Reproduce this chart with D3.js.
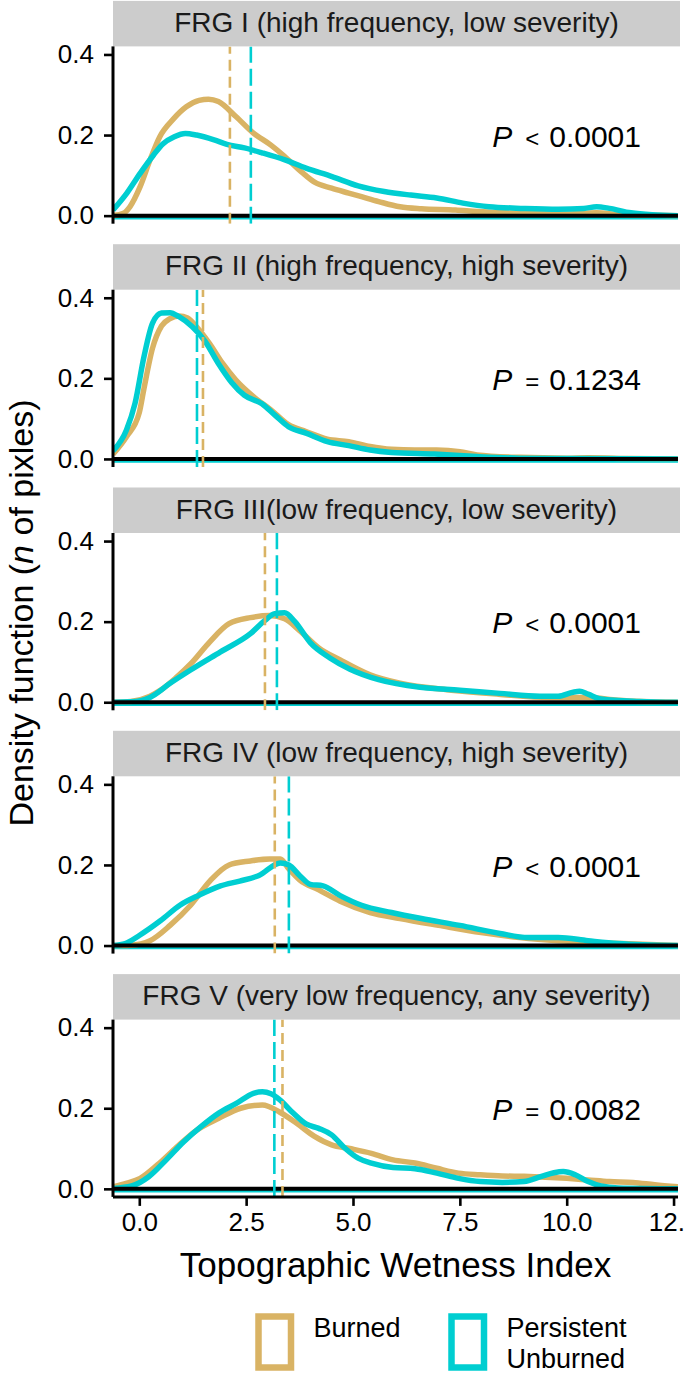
<!DOCTYPE html>
<html><head><meta charset="utf-8">
<script src="https://cdn.jsdelivr.net/npm/d3@7"></script>
<style>body{margin:0;background:#fff}svg{display:block}text{font-family:"Liberation Sans",Arial,Helvetica,sans-serif}</style>
</head><body><svg id="c" width="685" height="1373"></svg>
<script>
const panelTitles = ["FRG I (high frequency, low severity)","FRG II (high frequency, high severity)","FRG III(low frequency, low severity)","FRG IV (low frequency, high severity)","FRG V (very low frequency, any severity)"];
const seriesNames = ["Burned","Persistent Unburned"];
const xTicks = [0,2.5,5,7.5,10,12.5];
const xTickLabels = ["0.0","2.5","5.0","7.5","10.0","12.5"];
const yTicks = [0,0.2,0.4];
const yTickLabels = ["0.0","0.2","0.4"];
const pSign = ["<","=","<","<","="];
const pValue = ["0.0001","0.1234","0.0001","0.0001","0.0082"];
const burnedMean = [2.12,1.49,2.94,3.17,3.35];
const unburnedMean = [2.61,1.35,3.22,3.50,3.16];

const frg1Burned = [[-0.615,0.0],[-0.37,0.006],[-0.22,0.022],[0.02,0.072],[0.25,0.138],[0.48,0.196],[0.8,0.24],[1.1,0.27],[1.4,0.286],[1.62,0.289],[1.85,0.283],[2.26,0.246],[2.67,0.205],[3.08,0.175],[3.39,0.148],[3.8,0.108],[4.1,0.083],[4.5,0.068],[4.9,0.056],[5.2,0.047],[5.6,0.035],[6.1,0.022],[6.6,0.017],[7.4,0.014],[7.9,0.01],[8.9,0.006],[9.9,0.004],[10.7,0.007],[11.2,0.003],[12.0,0.001],[12.6,0.0]];
const frg1Unburned = [[-0.615,0.014],[-0.29,0.056],[0.02,0.105],[0.33,0.15],[0.55,0.178],[0.82,0.196],[1.08,0.204],[1.34,0.2],[1.75,0.188],[2.05,0.177],[2.46,0.168],[2.87,0.156],[3.39,0.139],[3.9,0.118],[4.51,0.097],[5.12,0.074],[5.73,0.06],[6.35,0.051],[6.96,0.044],[7.57,0.031],[8.18,0.022],[9.0,0.018],[9.8,0.016],[10.4,0.018],[10.7,0.022],[11.0,0.018],[11.5,0.007],[12.0,0.002],[12.6,0.0]];
const frg2Burned = [[-0.615,0.012],[-0.3,0.055],[0.0,0.115],[0.11,0.175],[0.31,0.275],[0.52,0.33],[0.72,0.348],[0.93,0.355],[1.13,0.35],[1.34,0.328],[1.64,0.287],[1.95,0.237],[2.26,0.196],[2.67,0.155],[3.08,0.122],[3.49,0.085],[3.9,0.068],[4.4,0.049],[4.9,0.043],[5.4,0.031],[5.9,0.024],[6.45,0.022],[6.96,0.022],[7.5,0.018],[7.9,0.01],[8.9,0.004],[10.0,0.002],[10.5,0.003],[11.5,0.001],[12.6,0.0]];
const frg2Unburned = [[-0.615,0.02],[-0.3,0.072],[-0.1,0.138],[0.11,0.254],[0.31,0.337],[0.52,0.362],[0.72,0.363],[0.93,0.353],[1.24,0.328],[1.54,0.292],[1.85,0.237],[2.16,0.19],[2.46,0.158],[2.87,0.137],[3.18,0.108],[3.49,0.08],[3.9,0.064],[4.4,0.043],[4.9,0.033],[5.4,0.022],[5.9,0.016],[6.9,0.012],[7.9,0.006],[8.9,0.002],[10.0,0.001],[12.6,0.0]];
const frg3Burned = [[-0.615,0],[-0.2,0.002],[0.25,0.015],[0.5,0.03],[0.85,0.06],[1.2,0.095],[1.65,0.15],[2.1,0.195],[2.6,0.21],[3.05,0.215],[3.4,0.207],[3.75,0.178],[4.2,0.135],[4.7,0.105],[5.4,0.068],[6.1,0.047],[7.3,0.03],[8.4,0.02],[9.6,0.012],[10.5,0.012],[11.2,0.005],[12.6,0]];
const frg3Unburned = [[-0.615,0],[-0.2,0.001],[0.25,0.012],[0.72,0.047],[1.2,0.08],[1.9,0.125],[2.6,0.17],[2.94,0.203],[3.17,0.22],[3.4,0.222],[3.64,0.2],[4.0,0.148],[4.46,0.11],[4.93,0.082],[5.6,0.056],[6.57,0.037],[7.5,0.03],[8.44,0.022],[9.37,0.015],[9.8,0.015],[10.15,0.025],[10.3,0.027],[10.5,0.02],[10.8,0.008],[11.7,0.002],[12.6,0]];
const frg4Burned = [[-0.615,0],[-0.2,0.001],[0.25,0.012],[0.72,0.05],[1.2,0.1],[1.65,0.16],[2.1,0.2],[2.6,0.21],[3.05,0.215],[3.3,0.215],[3.5,0.19],[3.75,0.163],[4.2,0.138],[4.7,0.11],[5.4,0.082],[6.1,0.067],[7.0,0.05],[8.0,0.032],[8.9,0.02],[9.8,0.012],[10.8,0.007],[12.6,0]];
const frg4Unburned = [[-0.615,0],[-0.33,0.005],[0.0,0.025],[0.5,0.062],[0.95,0.1],[1.4,0.125],[1.9,0.148],[2.35,0.16],[2.8,0.174],[3.3,0.205],[3.5,0.2],[3.75,0.174],[4.0,0.152],[4.3,0.148],[4.7,0.124],[5.2,0.1],[5.9,0.082],[6.6,0.067],[7.5,0.05],[8.44,0.03],[9.1,0.02],[9.8,0.02],[10.5,0.012],[11.2,0.005],[12.6,0]];
const frg5Burned = [[-0.615,0.005],[-0.29,0.014],[0.02,0.026],[0.43,0.06],[0.84,0.1],[1.35,0.146],[1.86,0.175],[2.37,0.2],[2.88,0.208],[3.29,0.19],[3.69,0.162],[4.1,0.13],[4.5,0.109],[4.92,0.1],[5.43,0.088],[5.94,0.072],[6.45,0.064],[6.96,0.051],[7.47,0.039],[7.98,0.035],[8.49,0.032],[9.0,0.031],[9.5,0.029],[10.0,0.026],[10.5,0.022],[11.0,0.018],[11.55,0.016],[12.06,0.01],[12.6,0.005]];
const frg5Unburned = [[-0.615,0.001],[-0.18,0.007],[0.22,0.03],[0.63,0.072],[1.04,0.117],[1.45,0.155],[1.86,0.188],[2.27,0.212],[2.67,0.237],[2.88,0.241],[3.08,0.236],[3.29,0.221],[3.6,0.188],[3.9,0.161],[4.2,0.15],[4.5,0.134],[4.82,0.1],[5.12,0.076],[5.43,0.064],[5.94,0.053],[6.45,0.05],[6.96,0.039],[7.47,0.026],[7.98,0.018],[8.49,0.016],[9.0,0.018],[9.41,0.031],[9.7,0.04],[9.92,0.043],[10.2,0.035],[10.5,0.018],[10.8,0.007],[11.2,0.002],[12.6,0]];

const burnedSeries = [frg1Burned,frg2Burned,frg3Burned,frg4Burned,frg5Burned];
const unburnedSeries = [frg1Unburned,frg2Unburned,frg3Unburned,frg4Unburned,frg5Unburned];

const TAN = "#D9B364", TEAL = "#00CED1";
const svg = d3.select("#c");
const left = 113, right = 678;
const panelTop0 = 46.4, pitch = 243.3, panelH = 177.3, stripH = 45.5;
const x = d3.scaleLinear().domain([-0.615, 12.604]).range([left, right]);

panelTitles.forEach((title, k) => {
  const top = panelTop0 + pitch * k, bottom = top + panelH;
  const y = d3.scaleLinear().domain([-0.02, 0.42]).range([bottom, top]);
  const g = svg.append("g");
  g.append("rect").attr("x", left).attr("y", top - stripH).attr("width", 680 - left).attr("height", stripH).attr("fill", "#CCCCCC");
  g.append("text").attr("x", (left + 680) / 2).attr("y", top - stripH + 31).attr("text-anchor", "middle")
    .attr("font-size", 28).attr("fill", "#1a1a1a").text(title);
  const cid = "clip" + k;
  svg.append("clipPath").attr("id", cid).append("rect").attr("x", left).attr("y", top).attr("width", right - left).attr("height", panelH);
  const pg = g.append("g").attr("clip-path", `url(#${cid})`);
  const line = d3.line().x(d => x(d[0])).y(d => y(d[1])).curve(d3.curveMonotoneX);
  pg.append("line").attr("x1", left).attr("x2", right).attr("y1", y(0) + 1.5).attr("y2", y(0) + 1.5).attr("stroke", TEAL).attr("stroke-width", 4.5);
  pg.append("path").datum(burnedSeries[k]).attr("d", line).attr("fill", "none").attr("stroke", TAN).attr("stroke-width", 5.5).attr("stroke-linejoin", "round");
  pg.append("path").datum(unburnedSeries[k]).attr("d", line).attr("fill", "none").attr("stroke", TEAL).attr("stroke-width", 5.5).attr("stroke-linejoin", "round");
  pg.append("line").attr("x1", left).attr("x2", right).attr("y1", y(0)).attr("y2", y(0)).attr("stroke", "#000").attr("stroke-width", 4);
  pg.append("line").attr("x1", x(burnedMean[k])).attr("x2", x(burnedMean[k])).attr("y1", bottom).attr("y2", top)
    .attr("stroke", TAN).attr("stroke-width", 2.6).attr("stroke-dasharray", "11,6");
  pg.append("line").attr("x1", x(unburnedMean[k])).attr("x2", x(unburnedMean[k])).attr("y1", bottom).attr("y2", top)
    .attr("stroke", TEAL).attr("stroke-width", 2.6).attr("stroke-dasharray", "17,6");
  const yAxis = d3.axisLeft(y).tickValues(yTicks).tickFormat((d, i) => yTickLabels[i]).tickSize(9).tickPadding(10);
  const ya = g.append("g").attr("transform", `translate(${left},0)`).call(yAxis);
  ya.select(".domain").attr("stroke", "#000").attr("stroke-width", 3).attr("d", `M0,${top}V${bottom}`);
  ya.selectAll(".tick line").attr("stroke", "#000").attr("stroke-width", 2.6);
  ya.selectAll(".tick text").attr("font-size", 26).attr("fill", "#000").attr("font-family", '"Liberation Sans",Arial,sans-serif');
  const pt = g.append("text").attr("x", 641).attr("y", y(0) - 69).attr("text-anchor", "end").attr("font-size", 30).attr("fill", "#000");
  pt.append("tspan").attr("font-style", "italic").text("P");
  pt.append("tspan").attr("dx", 13).attr("font-size", 24).text(pSign[k]);
  pt.append("tspan").attr("dx", 10).text(pValue[k]);
  if (k === panelTitles.length - 1) {
    const xAxis = d3.axisBottom(x).tickValues(xTicks).tickFormat((d, i) => xTickLabels[i]).tickSize(9).tickPadding(7);
    const xa = g.append("g").attr("transform", `translate(0,${bottom})`).call(xAxis);
    xa.select(".domain").attr("stroke", "#000").attr("stroke-width", 3).attr("d", `M${left},0H${right}`);
    xa.selectAll(".tick line").attr("stroke", "#000").attr("stroke-width", 2.6);
    xa.selectAll(".tick text").attr("font-size", 26).attr("fill", "#000").attr("font-family", '"Liberation Sans",Arial,sans-serif');
  }
});

svg.append("text").attr("x", (left + right) / 2).attr("y", 1277).attr("text-anchor", "middle").attr("font-size", 35).attr("fill", "#000").text("Topographic Wetness Index");
const yt = svg.append("text").attr("transform", "translate(33,613) rotate(-90)").attr("text-anchor", "middle").attr("font-size", 34).attr("fill", "#000");
yt.append("tspan").text("Density function (");
yt.append("tspan").attr("font-style", "italic").text("n");
yt.append("tspan").text(" of pixles)");

const legX = [258.5, 451.5];
const legColors = [TAN, TEAL];
seriesNames.forEach((name, i) => {
  svg.append("rect").attr("x", legX[i]).attr("y", 1316.5).attr("width", 32.5).attr("height", 51).attr("fill", "none").attr("stroke", legColors[i]).attr("stroke-width", 6.5);
  const t = svg.append("text").attr("x", legX[i] + 55).attr("y", 1336.7).attr("font-size", 27).attr("fill", "#000");
  const parts = name === "Persistent Unburned" ? ["Persistent", "Unburned"] : [name];
  parts.forEach((p, j) => t.append("tspan").attr("x", legX[i] + 55).attr("dy", j === 0 ? 0 : 31.6).text(p));
});
</script></body></html>
